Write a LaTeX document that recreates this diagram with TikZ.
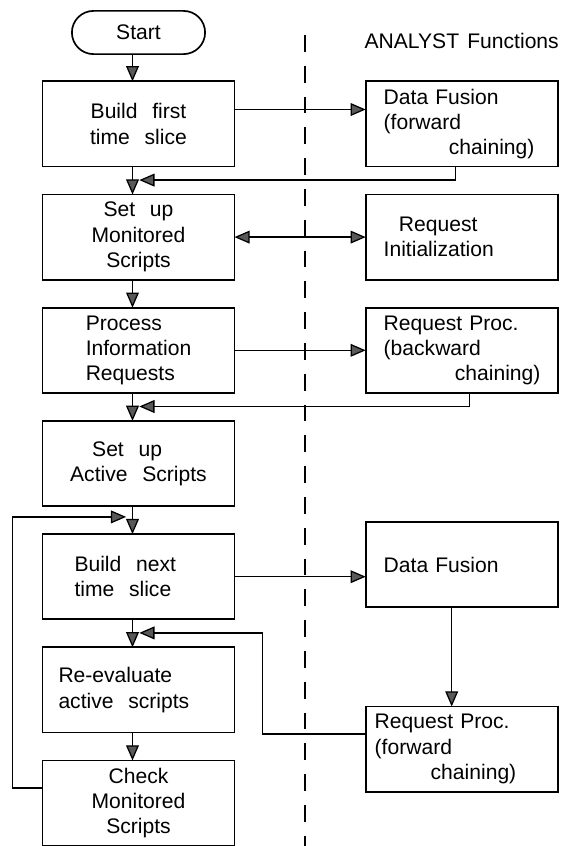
\documentclass[tikz,border=0pt]{standalone}
\usepackage{fontspec}
\setmainfont{Liberation Sans}[WordSpace=1.4]
\usepackage{tikz}
\usetikzlibrary{shapes.geometric, positioning, arrows.meta}
\newcommand{\widespace}{\spaceskip=0.7em\relax}

\begin{document}
\begin{tikzpicture}[
    font=\fontsize{15}{18}\selectfont,
    box/.style={draw, line width=1.2pt, minimum width=4.8cm, minimum height=2.13cm, inner sep=0pt, outer sep=0pt, align=center},
    flow/.style={box, execute at begin node=\widespace},
    arr/.style={line width=0.9pt, -{Triangle[length=3.8mm, width=3.2mm, fill=black!65]}},
    darr/.style={line width=0.9pt, {Triangle[length=3.8mm, width=3.2mm, fill=black!65]}-{Triangle[length=3.8mm, width=3.2mm, fill=black!65]}}
  ]
  \useasboundingbox (0,0) rectangle (14.05,-21.15);

  % main loop, left column
  \node[draw, line width=1.2pt, outer sep=0pt, rounded corners=0.54cm, minimum width=3.33cm, minimum height=1.08cm] (start) at (3.4625,-0.8125) {Start};
  \node[flow, below=0.68cm of start] (build1) {Build first\\time slice};
  \node[flow, below=0.7cm of build1] (monset) {Set up\\Monitored\\Scripts};
  \node[flow, below=0.7cm of monset, align=left] (procreq) {Process\\Information\\Requests};
  \node[flow, below=0.7cm of procreq, align=left] (actset) {\hspace*{0.55cm}Set up\\Active Scripts};
  \node[flow, below=0.7cm of actset, text width=3.2cm, align=left] (build2) {Build next\\time slice};
  \node[flow, below=0.7cm of build2, text width=4cm, align=left] (reeval) {Re-evaluate\\active scripts};
  \node[flow, below=0.7cm of reeval] (moncheck) {Check\\Monitored\\Scripts};

  % ANALYST side
  \node[box, right=3.28cm of build1, text width=3.9cm, align=left] (fusion1) {Data Fusion\\(forward\\\hspace*{1.63cm}\mbox{chaining)}};
  \node[box, right=3.28cm of monset, text width=3.9cm, align=left] (reqinit) {\hspace*{0.38cm}Request\\Initialization};
  \node[box, right=3.28cm of procreq, text width=3.9cm, align=left] (reqproc1) {Request Proc.\\(backward\\\hspace*{1.78cm}\mbox{chaining)}};
  \node[box, right=3.28cm of build2, yshift=0.3cm, text width=3.9cm, align=left] (fusion2) {Data Fusion};
  \node[box, below=2.48cm of fusion2, text width=4.35cm, align=left] (reqproc2) {Request Proc.\\(forward\\\hspace*{1.4cm}\mbox{chaining)}};
  \node[above=0.68cm of fusion1] (analyst) {ANALYST Functions};

  \draw[line width=1.2pt, dash pattern=on 0.42cm off 0.35cm] (7.625,-0.875) -- (7.625,-21.15); %separator

  % downward flow
  \draw[arr] ([xshift=-1.5mm]start.south) -- ([xshift=-1.5mm]build1.north);
  \draw[arr] ([xshift=-1.5mm]build1.south) -- ([xshift=-1.5mm]monset.north);
  \draw[arr] ([xshift=-1.5mm]monset.south) -- ([xshift=-1.5mm]procreq.north);
  \draw[arr] ([xshift=-1.5mm]procreq.south) -- ([xshift=-1.5mm]actset.north);
  \draw[arr] ([xshift=-1.5mm]actset.south) -- ([xshift=-1.5mm]build2.north);
  \draw[arr] ([xshift=-1.5mm]build2.south) -- ([xshift=-1.5mm]reeval.north);
  \draw[arr] ([xshift=-1.5mm]reeval.south) -- ([xshift=-1.5mm]moncheck.north);

  % calls across
  \coordinate (out1) at ([yshift=3.6mm]build1.east);
  \draw[arr] (out1) -- (out1 -| fusion1.west);
  \draw[darr] (monset.east) -- (monset.east -| reqinit.west);
  \draw[arr] (procreq.east) -- (procreq.east -| reqproc1.west);
  \draw[arr] (build2.east) -- (build2.east -| fusion2.west);
  \draw[arr] ([xshift=-2.5mm]fusion2.south) -- ([xshift=-2.5mm]reqproc2.north);

  % returns
  \draw[arr] ([xshift=-1.5mm]fusion1.south) |- ([xshift=0.2mm, yshift=3.6mm]monset.north);
  \draw[arr] ([xshift=2mm]reqproc1.south) |- ([xshift=0.2mm, yshift=3.6mm]actset.north);
  \draw[arr] ([yshift=3.8mm]reqproc2.west) -- ++(-2.58cm,0) |- ([xshift=0.2mm, yshift=3.6mm]reeval.north);
  \draw[arr] ([yshift=3.8mm]moncheck.west) -- ++(-0.75cm,0) |- ([xshift=-3.1mm, yshift=4.3mm]build2.north);
\end{tikzpicture}
\end{document}
